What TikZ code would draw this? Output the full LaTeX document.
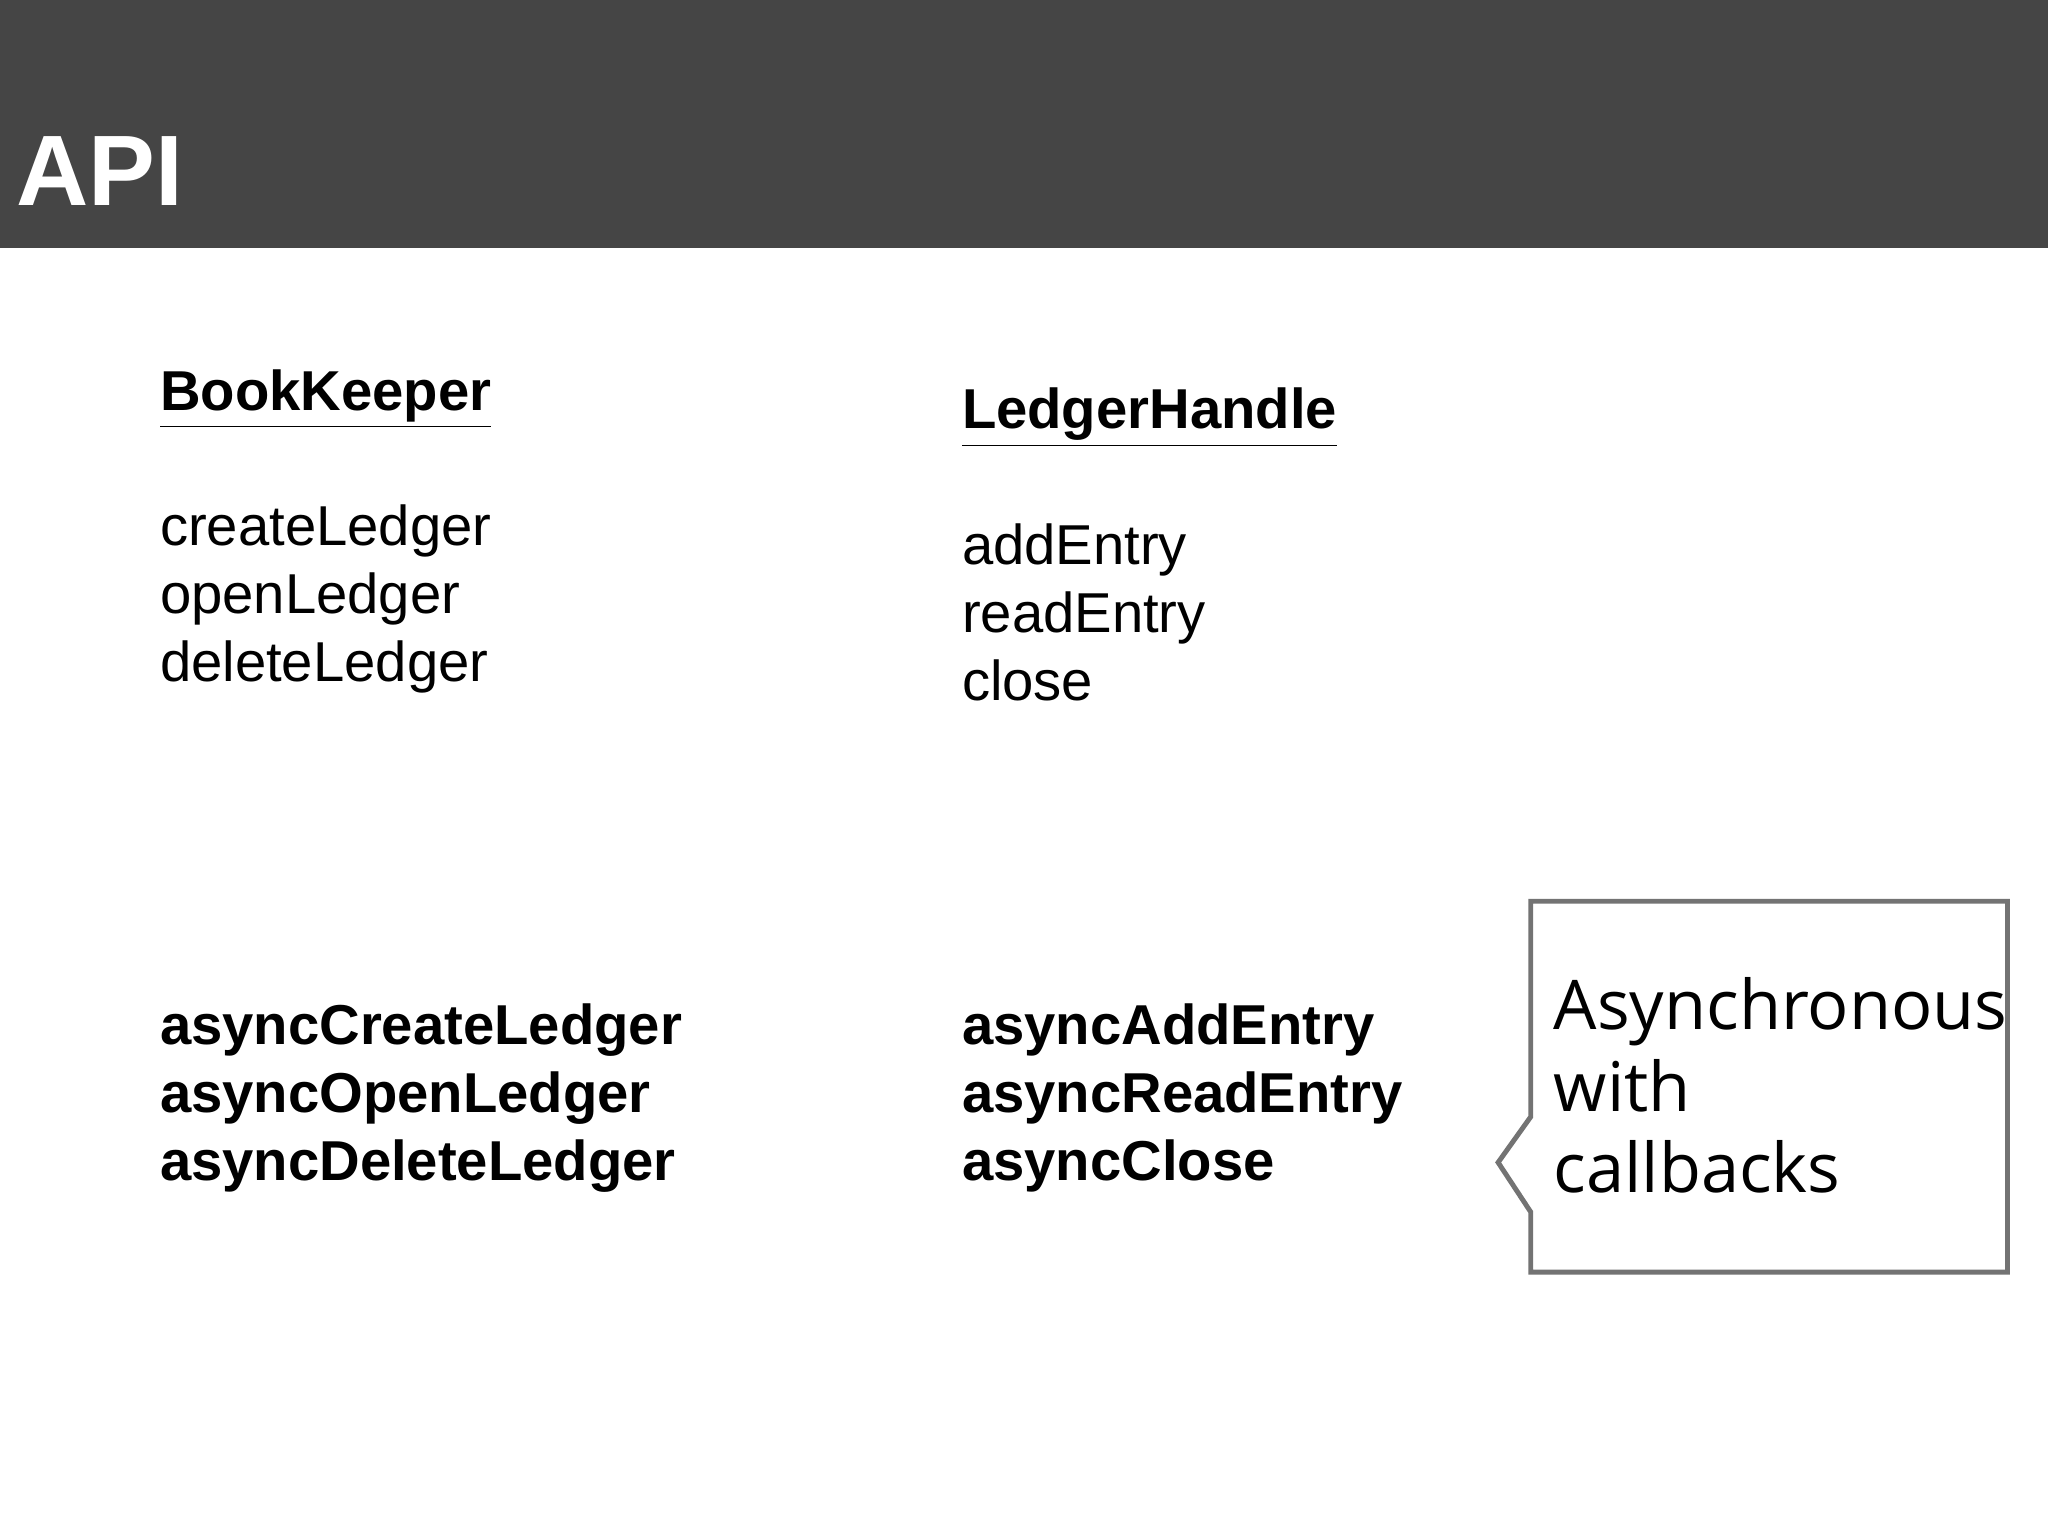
\documentclass[tikz,border=0pt]{standalone}
\usepackage{fontspec}
\setmainfont{Liberation Sans}
\newfontfamily\callfont{Open Sans}
\begin{document}
\begin{tikzpicture}[x=0.01306cm,y=-0.01306cm,
  txt/.style={anchor=base west,inner sep=0pt,font=\fontsize{16}{19}\selectfont},
  btxt/.style={txt,font=\fontsize{16}{19}\selectfont\bfseries},
  ctxt/.style={anchor=base west,inner sep=0pt,font=\callfont\fontsize{19.5}{23}\selectfont}]
\useasboundingbox (0,0) rectangle (1568,1176);
\fill[white] (0,0) rectangle (1568,1176);
\fill[black!73] (0,0) rectangle (1568,190);
\node[anchor=base west,inner sep=0pt,text=white,font=\fontsize{28.5}{30}\selectfont\bfseries] (title) at (12,157) {API};
\node[btxt] (bk) at (122,314) {\underline{BookKeeper}};
\node[txt] (b1) at (122,418) {createLedger};
\node[txt] (b2) at (122,470) {openLedger};
\node[txt] (b3) at (122,522) {deleteLedger};
\node[btxt] (lh) at (736,328) {\underline{LedgerHandle}};
\node[txt] (l1) at (736,432) {addEntry};
\node[txt] (l2) at (736,484) {readEntry};
\node[txt] (l3) at (736,536) {close};
\node[btxt] (ab1) at (122,800) {asyncCreateLedger};
\node[btxt] (ab2) at (122,852) {asyncOpenLedger};
\node[btxt] (ab3) at (122,904) {asyncDeleteLedger};
\node[btxt] (al1) at (736,800) {asyncAddEntry};
\node[btxt] (al2) at (736,852) {asyncReadEntry};
\node[btxt] (al3) at (736,904) {asyncClose};
\draw[black!55,line width=1.4pt,fill=white] (1172,690) -- (1537,690) -- (1537,974) -- (1172,974) -- (1172,928) -- (1147,890) -- (1172,855) -- cycle;
\node[ctxt] (c1) at (1189,788) {Asynchronous};
\node[ctxt] (c2) at (1189,851) {with};
\node[ctxt] (c3) at (1189,913) {callbacks};
\end{tikzpicture}
\end{document}
